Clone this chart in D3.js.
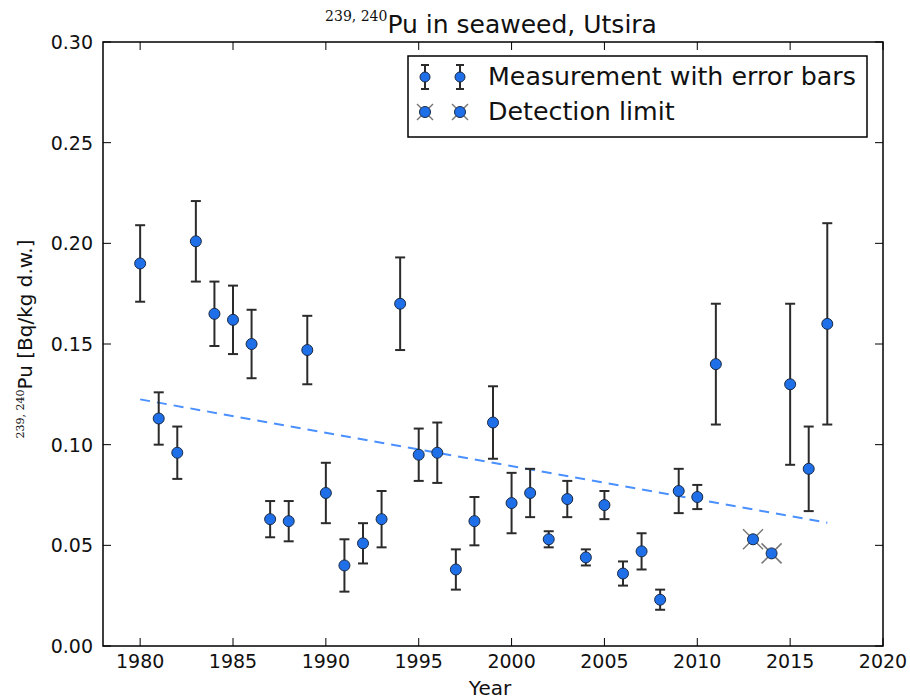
<!DOCTYPE html>
<html>
<head>
<meta charset="utf-8">
<script src="https://cdn.jsdelivr.net/npm/d3@7"></script>
<style>
  body { margin: 0; background: #fff; }
  text { font-family: "DejaVu Sans", sans-serif; fill: #111; }
</style>
</head>
<body>
<script>
// measured values with error bars
var years  = [1980, 1981, 1982, 1983, 1984, 1985, 1986, 1987, 1988, 1989, 1990, 1991, 1992, 1993, 1994, 1995, 1996, 1997, 1998, 1999,
              2000, 2001, 2002, 2003, 2004, 2005, 2006, 2007, 2008, 2009, 2010, 2011, 2015, 2016, 2017]
var values = [0.190, 0.113, 0.096, 0.201, 0.165, 0.162, 0.150, 0.063, 0.062, 0.147, 0.076, 0.040, 0.051, 0.063, 0.170, 0.095, 0.096, 0.038, 0.062, 0.111,
              0.071, 0.076, 0.053, 0.073, 0.044, 0.070, 0.036, 0.047, 0.023, 0.077, 0.074, 0.140, 0.130, 0.088, 0.160]
var errors = [0.019, 0.013, 0.013, 0.020, 0.016, 0.017, 0.017, 0.009, 0.010, 0.017, 0.015, 0.013, 0.010, 0.014, 0.023, 0.013, 0.015, 0.010, 0.012, 0.018,
              0.015, 0.012, 0.004, 0.009, 0.004, 0.007, 0.006, 0.009, 0.005, 0.011, 0.006, 0.030, 0.040, 0.021, 0.050]

// detection limit points
var dlYears  = [2013, 2014]
var dlValues = [0.053, 0.046]

// trend line end points
var trendYears  = [1980, 2017]
var trendValues = [0.1225, 0.0612]

var xTicks = [1980, 1985, 1990, 1995, 2000, 2005, 2010, 2015, 2020]
var yTicks = [0.00, 0.05, 0.10, 0.15, 0.20, 0.25, 0.30]

;(function () {
var width = 910, height = 699
var pL = 103, pR = 883, pT = 42, pB = 646

var svg = d3.select("body").append("svg")
  .attr("width", width)
  .attr("height", height)

var x = d3.scaleLinear().domain([1978, 2020]).range([pL, pR])
var y = d3.scaleLinear().domain([0, 0.30]).range([pB, pT])

var blue = "#1f6fe8"
var dark = "#2b2b2b"

// ticks, inward on all four sides
var tickLen = 8
var tg = svg.append("g").attr("stroke", "#000").attr("stroke-width", 1)
xTicks.forEach(function(t) {
  tg.append("line").attr("x1", x(t)).attr("x2", x(t)).attr("y1", pB).attr("y2", pB - tickLen)
  tg.append("line").attr("x1", x(t)).attr("x2", x(t)).attr("y1", pT).attr("y2", pT + tickLen)
})
yTicks.forEach(function(t) {
  tg.append("line").attr("x1", pL).attr("x2", pL + tickLen).attr("y1", y(t)).attr("y2", y(t))
  tg.append("line").attr("x1", pR).attr("x2", pR - tickLen).attr("y1", y(t)).attr("y2", y(t))
})

svg.selectAll(".xl").data(xTicks).enter().append("text")
  .attr("x", function(d) { return x(d) })
  .attr("y", 668)
  .attr("text-anchor", "middle")
  .attr("font-size", 19)
  .text(function(d) { return d })

svg.selectAll(".yl").data(yTicks).enter().append("text")
  .attr("x", pL - 10)
  .attr("y", function(d) { return y(d) + 7 })
  .attr("text-anchor", "end")
  .attr("font-size", 19)
  .text(function(d) { return d.toFixed(2) })

// trend line
svg.append("line")
  .attr("x1", x(trendYears[0])).attr("y1", y(trendValues[0]))
  .attr("x2", x(trendYears[1])).attr("y2", y(trendValues[1]))
  .attr("stroke", "#4a90ff")
  .attr("stroke-width", 2)
  .attr("stroke-dasharray", "10,7")

var data = years.map(function(d, i) { return { year: d, v: values[i], e: errors[i] } })

// error bars
var eb = svg.selectAll(".eb").data(data).enter().append("g")
  .attr("stroke", dark).attr("stroke-width", 2)
eb.append("line")
  .attr("x1", function(d) { return x(d.year) }).attr("x2", function(d) { return x(d.year) })
  .attr("y1", function(d) { return y(d.v - d.e) }).attr("y2", function(d) { return y(d.v + d.e) })
eb.append("line")
  .attr("x1", function(d) { return x(d.year) - 5 }).attr("x2", function(d) { return x(d.year) + 5 })
  .attr("y1", function(d) { return y(d.v + d.e) }).attr("y2", function(d) { return y(d.v + d.e) })
eb.append("line")
  .attr("x1", function(d) { return x(d.year) - 5 }).attr("x2", function(d) { return x(d.year) + 5 })
  .attr("y1", function(d) { return y(d.v - d.e) }).attr("y2", function(d) { return y(d.v - d.e) })

svg.selectAll(".pt").data(data).enter().append("circle")
  .attr("cx", function(d) { return x(d.year) })
  .attr("cy", function(d) { return y(d.v) })
  .attr("r", 5.5)
  .attr("fill", blue)
  .attr("stroke", "#1a2a44")
  .attr("stroke-width", 1)

// detection limit markers
function drawCross(g, cx, cy, s) {
  g.append("line").attr("x1", cx - s).attr("y1", cy - s).attr("x2", cx + s).attr("y2", cy + s)
    .attr("stroke", "#777").attr("stroke-width", 1.5)
  g.append("line").attr("x1", cx - s).attr("y1", cy + s).attr("x2", cx + s).attr("y2", cy - s)
    .attr("stroke", "#777").attr("stroke-width", 1.5)
  g.append("circle").attr("cx", cx).attr("cy", cy).attr("r", 5.5)
    .attr("fill", blue).attr("stroke", "#1a2a44").attr("stroke-width", 1)
}
var dlg = svg.append("g")
dlYears.forEach(function(d, i) { drawCross(dlg, x(d), y(dlValues[i]), 10) })

// frame
svg.append("rect")
  .attr("x", pL).attr("y", pT)
  .attr("width", pR - pL).attr("height", pB - pT)
  .attr("fill", "none").attr("stroke", "#000").attr("stroke-width", 1.5)

// legend
var lg = svg.append("g")
lg.append("rect").attr("x", 408).attr("y", 56).attr("width", 459).attr("height", 81)
  .attr("fill", "#fff").attr("stroke", "#000").attr("stroke-width", 1.5)
;[425, 460].forEach(function(cx) {
  var cy = 77
  lg.append("line").attr("x1", cx).attr("x2", cx).attr("y1", cy - 12).attr("y2", cy + 12).attr("stroke", dark).attr("stroke-width", 2)
  lg.append("line").attr("x1", cx - 4).attr("x2", cx + 4).attr("y1", cy - 12).attr("y2", cy - 12).attr("stroke", dark).attr("stroke-width", 2)
  lg.append("line").attr("x1", cx - 4).attr("x2", cx + 4).attr("y1", cy + 12).attr("y2", cy + 12).attr("stroke", dark).attr("stroke-width", 2)
  lg.append("circle").attr("cx", cx).attr("cy", cy).attr("r", 5).attr("fill", blue).attr("stroke", "#1a2a44")
  drawCross(lg, cx, 112, 8)
})
lg.append("text").attr("x", 488).attr("y", 85).attr("font-size", 25.3).text("Measurement with error bars")
lg.append("text").attr("x", 488).attr("y", 120).attr("font-size", 25.3).text("Detection limit")

// title
var title = svg.append("text").attr("x", 491).attr("y", 33).attr("text-anchor", "middle").attr("font-size", 25)
title.append("tspan").attr("font-family", "DejaVu Serif, serif").attr("font-size", 14).attr("dy", -12).text("239, 240")
title.append("tspan").attr("dy", 12).text("Pu in seaweed, Utsira")

// axis labels
svg.append("text").attr("x", 490).attr("y", 695).attr("text-anchor", "middle").attr("font-size", 20).text("Year")

var yl = svg.append("text")
  .attr("transform", "translate(32,339) rotate(-90)")
  .attr("text-anchor", "middle")
  .attr("font-size", 20)
yl.append("tspan").attr("font-family", "DejaVu Serif, serif").attr("font-size", 11).attr("dy", -8).text("239, 240")
yl.append("tspan").attr("dy", 8).text("Pu [Bq/kg d.w.]")
})()
</script>
</body>
</html>
